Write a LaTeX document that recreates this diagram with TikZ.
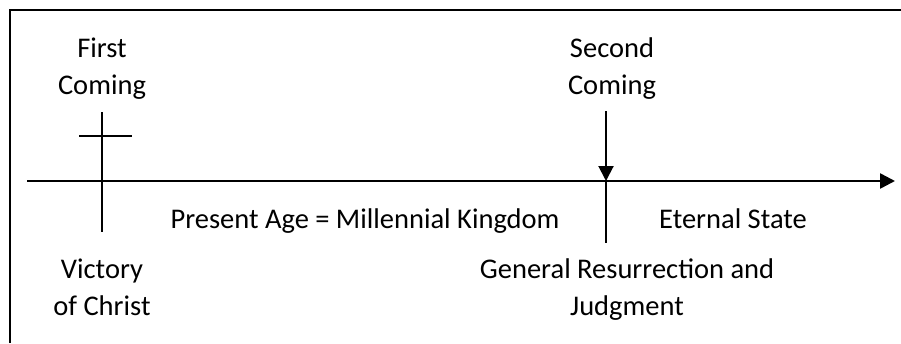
\documentclass[tikz,border=0pt]{standalone}
\usepackage{fontspec}
\setmainfont{Carlito}
\usepackage{tikz}
\usetikzlibrary{arrows.meta}

\begin{document}
\begin{tikzpicture}[x=1pt, y=-1pt, every node/.style={font=\fontsize{28.5}{36.5}\selectfont, inner sep=0pt}]
      \useasboundingbox (0,0) rectangle (901,343);
      \draw[line width=2] (10,343) -- (10,10) -- (901,10);
      % time line
      \coordinate (start) at (27,181);
      \coordinate (end) at (895,181);
      \draw[-{Triangle[length=15pt,width=15pt]}, line width=2.5] (start) -- (end);
      % first coming
      \node[align=center, anchor=base] at (102, 94) (first) {First\\Coming};
      \coordinate (crosstop) at (102,112);
      \coordinate (crossbot) at (102,232);
      \coordinate (barL) at (79,136);
      \coordinate (barR) at (132,136);
      \draw[line width=2] (crosstop) -- (crossbot);
      \draw[line width=2] (barL) -- (barR);
      \node[align=center, anchor=base] at (102, 315) (victory) {Victory\\of Christ};
      % second coming
      \node[align=center, anchor=base] at (612, 94) (second) {Second\\Coming};
      \coordinate (arrowtop) at (606,111);
      \coordinate (cut) at (606,181);
      \coordinate (cutbot) at (606,243);
      \draw[-{Triangle[length=15pt,width=15pt]}, line width=2] (arrowtop) -- (cut);
      \draw[line width=2] (cut) -- (cutbot);
      \node[align=center, anchor=base] at (627, 315) (judgment) {General Resurrection and\\Judgment};
      % ages
      \node[anchor=base] at (365, 228) (present) {Present Age = Millennial Kingdom};
      \node[anchor=base] at (733, 228) (eternal) {Eternal State};
    \end{tikzpicture}
\end{document}
